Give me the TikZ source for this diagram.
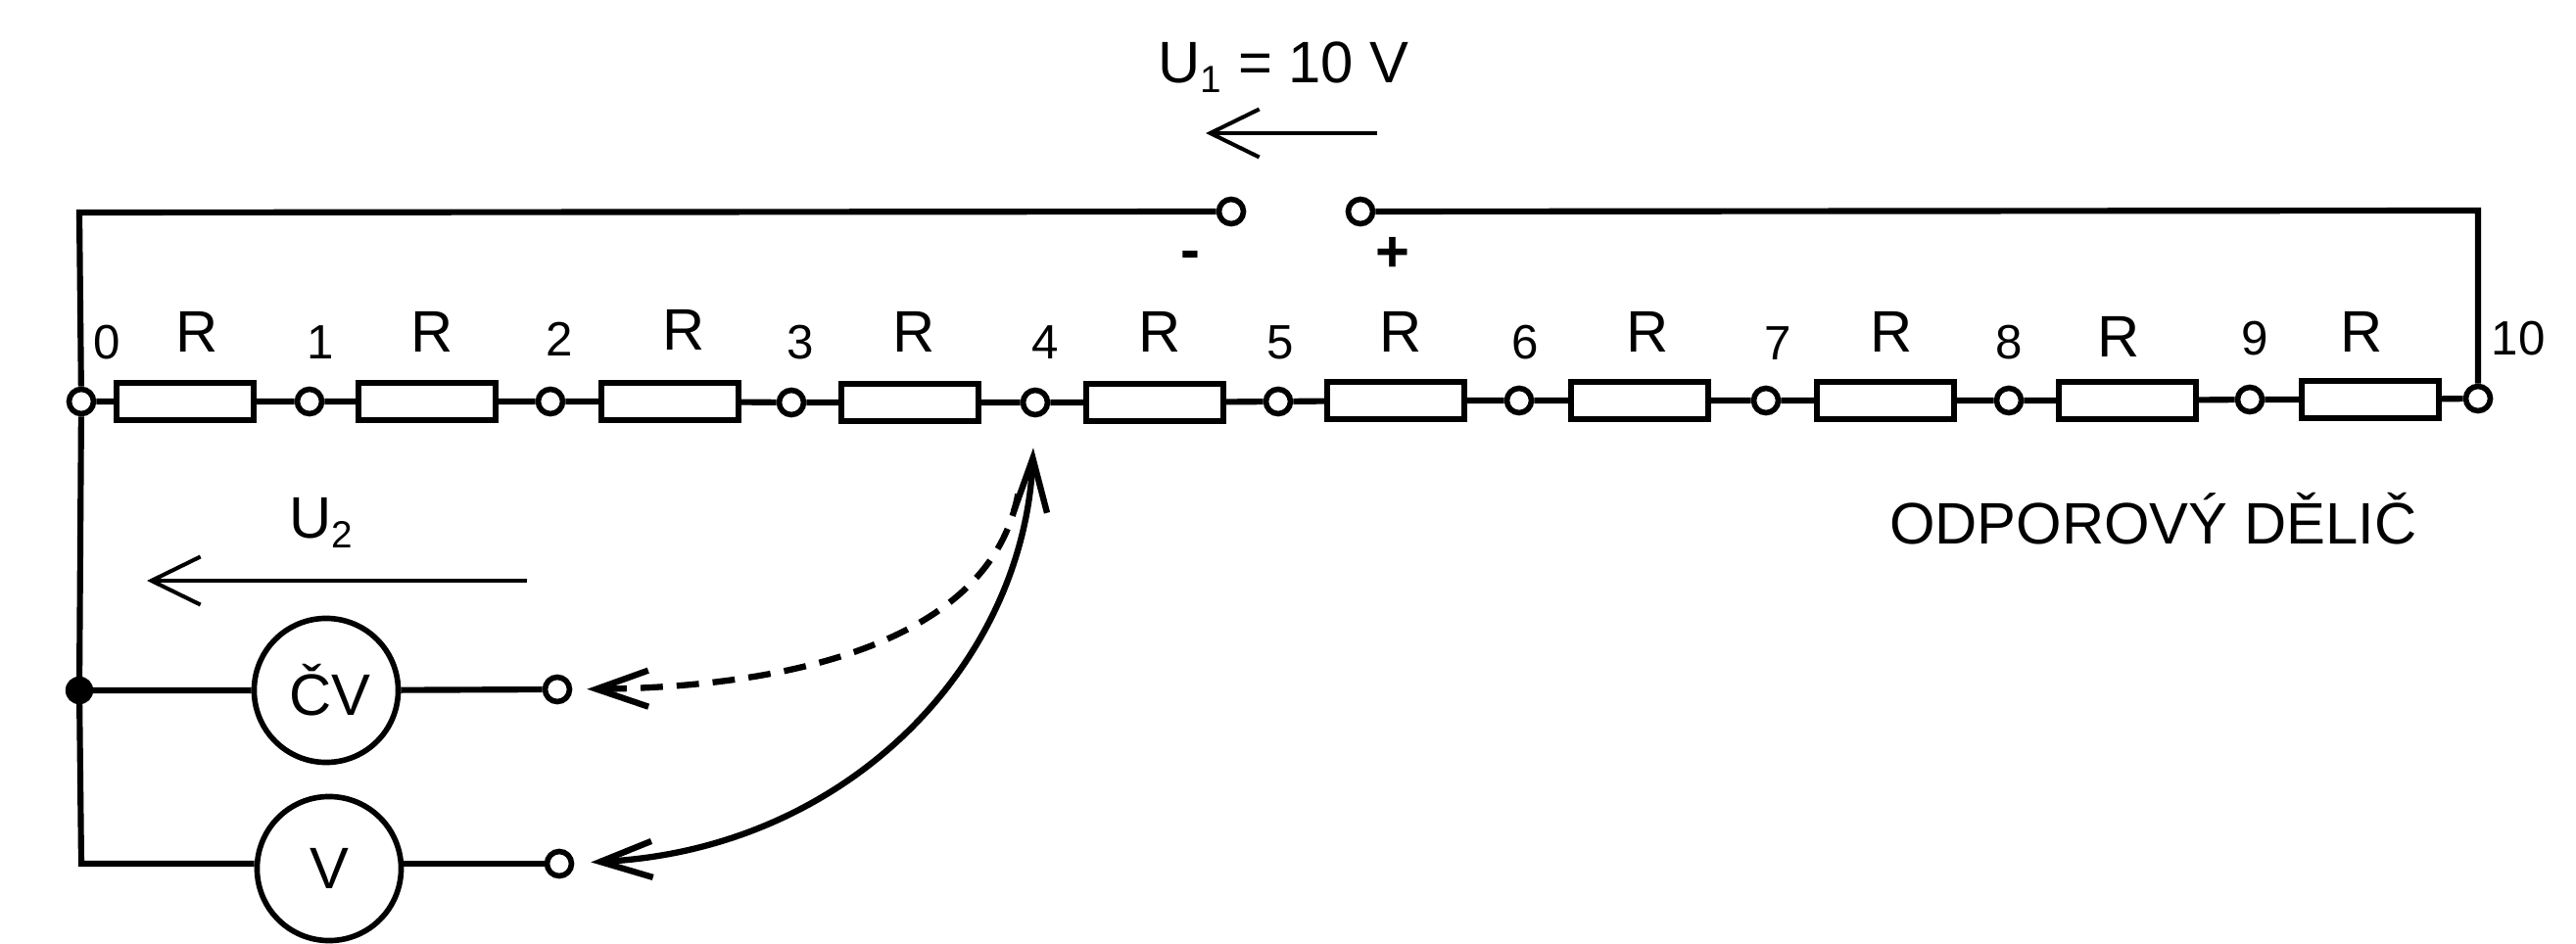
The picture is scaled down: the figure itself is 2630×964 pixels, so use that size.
\documentclass[tikz,border=0pt]{standalone}
\usepackage{fontspec}
\setmainfont{Liberation Sans}
\usetikzlibrary{arrows.meta}
\tikzset{
  wire/.style={line width=1.75pt},
  terminal/.style={draw, circle, fill=white, line width=1.6pt, minimum size=.25cm, inner sep=0pt},
  junction/.style={draw, circle, fill=black, minimum size=.27cm, inner sep=0pt},
  resistor/.style={draw, rectangle, fill=white, line width=1.7pt, minimum width=1.395cm, minimum height=.375cm, inner sep=0pt},
  meter/.style={draw, circle, line width=1.6pt, minimum size=1.47cm, inner sep=0pt, font=\fontsize{17}{20}\selectfont},
  biglabel/.style={inner sep=0pt, font=\fontsize{17}{20}\selectfont},
  numlabel/.style={inner sep=0pt, font=\fontsize{14}{16}\selectfont},
  signlabel/.style={inner sep=0pt, font=\fontsize{17}{20}\selectfont\bfseries},
  voltarrow/.style={line width=1.15pt, -{Straight Barb[length=.5cm, width=.49cm]}},
  lead/.style={line width=1.8pt, -{Straight Barb[length=.53cm, width=.37cm]}}
}
\newcommand{\lowidx}[1]{\raisebox{-.16em}{\fontsize{11}{13}\selectfont #1}}
\begin{document}
\begin{tikzpicture}[x=.01cm, y=-.01cm]
  \useasboundingbox (0,0) rectangle (2630,964);

  \node[terminal] (t0) at (83,410) {};
  \node[terminal] (t1) at (316,410) {};
  \node[terminal] (t2) at (562,410) {};
  \node[terminal] (t3) at (808,411) {};
  \node[terminal] (t4) at (1057,411) {};
  \node[terminal] (t5) at (1305,410) {};
  \node[terminal] (t6) at (1551,409) {};
  \node[terminal] (t7) at (1803,409) {};
  \node[terminal] (t8) at (2051,409) {};
  \node[terminal] (t9) at (2297,408) {};
  \node[terminal] (t10) at (2530,407) {};

  \node[resistor] (r1) at (189,410) {};
  \node[resistor] (r2) at (436,410) {};
  \node[resistor] (r3) at (684,410) {};
  \node[resistor] (r4) at (929,411) {};
  \node[resistor] (r5) at (1179,411) {};
  \node[resistor] (r6) at (1425,409) {};
  \node[resistor] (r7) at (1674,409) {};
  \node[resistor] (r8) at (1925,409) {};
  \node[resistor] (r9) at (2172,409) {};
  \node[resistor] (r10) at (2420,408) {};

  \node[terminal] (minus) at (1257,216) {};
  \node[terminal] (plus) at (1389,216) {};
  \node[junction] (dot) at (81,705) {};
  \node[meter] (cv) at (333,705) {\kern.08cm ČV};
  \node[meter] (v) at (336,887) {V};
  \node[terminal] (tcv) at (569,704) {};
  \node[terminal] (tv) at (571,882) {};

  \coordinate (topleft) at (81,217);
  \coordinate (topright) at (2530,215);
  \coordinate (botleft) at (83,882);

  \draw[wire] (t0) -- (r1) -- (t1) -- (r2) -- (t2) -- (r3) -- (t3) -- (r4) -- (t4) -- (r5) -- (t5);
  \draw[wire] (t5) -- (r6) -- (t6) -- (r7) -- (t7) -- (r8) -- (t8) -- (r9) -- (t9) -- (r10) -- (t10);
  \draw[wire] (minus) -- (topleft) -- (t0);
  \draw[wire] (plus) -- (topright) -- (t10);
  \draw[wire] (t0) -- (dot) -- (botleft) -- (v.west |- botleft);
  \draw[wire] (dot) -- (cv) -- (tcv);
  \draw[wire] (v.east |- tv) -- (tv);

  \coordinate (u1a) at (1406,136);
  \coordinate (u1b) at (1231,136);
  \coordinate (u2a) at (538,593);
  \coordinate (u2b) at (150,593);
  \draw[voltarrow] (u1a) -- (u1b);
  \draw[voltarrow] (u2a) -- (u2b);

  \draw[lead, {Straight Barb[length=.55cm, width=.34cm]}-{Straight Barb[length=.53cm, width=.37cm]}, shorten <=.31cm, shorten >=.17cm] (t4) .. controls (1045,680) and (863,868) .. (tv);
  \draw[lead, dash pattern=on 6.5pt off 4pt, shorten <=.8cm, shorten >=.15cm] (t4) .. controls (1010,660) and (795,702) .. (tcv);

  \node[biglabel, anchor=base west] (u1) at (1182,85) {U\lowidx{1} = 10 V};
  \node[biglabel, anchor=base west] (u2) at (295,550) {U\lowidx{2}};
  \node[biglabel, anchor=base east] (title) at (2468,555) {ODPOROVÝ DĚLIČ};
  \node[signlabel] (lminus) at (1215,266) {-};
  \node[signlabel] (lplus) at (1422,260) {+};

  \node[biglabel] (lr1) at (201,339) {R};
  \node[biglabel] (lr2) at (441,339) {R};
  \node[biglabel] (lr3) at (698,337) {R};
  \node[biglabel] (lr4) at (933,339) {R};
  \node[biglabel] (lr5) at (1184,339) {R};
  \node[biglabel] (lr6) at (1430,339) {R};
  \node[biglabel] (lr7) at (1682,339) {R};
  \node[biglabel] (lr8) at (1931,339) {R};
  \node[biglabel] (lr9) at (2163,344) {R};
  \node[biglabel] (lr10) at (2411,339) {R};

  \node[numlabel] (n0) at (109,350) {0};
  \node[numlabel] (n1) at (327,350) {1};
  \node[numlabel] (n2) at (571,346) {2};
  \node[numlabel] (n3) at (817,350) {3};
  \node[numlabel] (n4) at (1067,350) {4};
  \node[numlabel] (n5) at (1307,350) {5};
  \node[numlabel] (n6) at (1557,350) {6};
  \node[numlabel] (n7) at (1815,351) {7};
  \node[numlabel] (n8) at (2051,350) {8};
  \node[numlabel] (n9) at (2302,346) {9};
  \node[numlabel] (n10) at (2571,346) {10};
\end{tikzpicture}
\end{document}
